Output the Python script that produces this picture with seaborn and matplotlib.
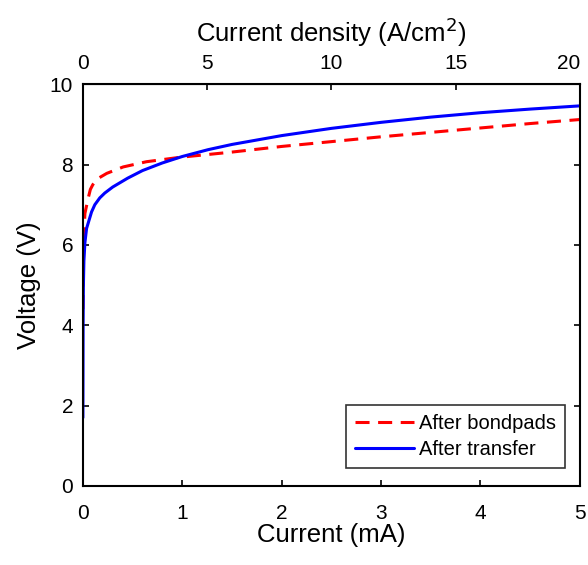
import numpy as np
import pandas as pd
import matplotlib
matplotlib.use("Agg")
import matplotlib.pyplot as plt
import seaborn as sns

# values
bond_current = [0, 0.005, 0.01, 0.02, 0.053, 0.075, 0.1, 0.15, 0.24, 0.405, 0.64, 0.976, 1.26,
                1.5, 2, 2.5, 3, 3.5, 4, 4.5, 5]
bond_voltage = [4.4, 5.6, 6.2, 6.78, 7.16, 7.38, 7.5, 7.65, 7.78, 7.94, 8.07, 8.18, 8.25,
                8.31, 8.45, 8.57, 8.69, 8.8, 8.91, 9.02, 9.12]

transfer_current = [0, 0.002, 0.005, 0.01, 0.02, 0.037, 0.087, 0.12, 0.17, 0.22, 0.3, 0.45, 0.6,
                    0.8, 1.0, 1.26, 1.5, 2, 2.5, 3, 3.5, 4, 4.5, 5]
transfer_voltage = [1.7, 4.0, 5.0, 5.6, 6.05, 6.41, 6.82, 7.0, 7.17, 7.29, 7.44, 7.66, 7.85,
                    8.04, 8.2, 8.37, 8.5, 8.72, 8.9, 9.05, 9.18, 9.29, 9.38, 9.46]

# mA -> A/cm^2 (5 mA corresponds to 20 A/cm^2)
DENSITY_PER_MA = 4.0

sns.set_style("ticks")
plt.rcParams['font.family'] = ['Liberation Sans', 'DejaVu Sans']
for key in ['text.color', 'axes.labelcolor', 'xtick.color', 'ytick.color']:
    plt.rcParams[key] = 'black'

bond = pd.DataFrame({'current': bond_current, 'voltage': bond_voltage})
transfer = pd.DataFrame({'current': transfer_current, 'voltage': transfer_voltage})

fig = plt.figure(figsize=(5.88, 5.65), dpi=100)
ax = fig.add_axes([0.141, 0.140, 0.845, 0.711])

sns.lineplot(data=bond, x='current', y='voltage', color=(1, 0, 0), lw=2.2,
             linestyle=(0, (4.6, 2.8)), label='After bondpads', ax=ax, sort=False)
sns.lineplot(data=transfer, x='current', y='voltage', color=(0, 0, 1), lw=2.2,
             label='After transfer', ax=ax, sort=False)

ax.set_xlim(0, 5)
ax.set_ylim(0, 10)
ax.set_xticks([0, 1, 2, 3, 4, 5])
ax.set_yticks([0, 2, 4, 6, 8, 10])
ax.set_xlabel("Current (mA)", fontsize=18.5, labelpad=0)
ax.set_ylabel("Voltage (V)", fontsize=18.5, labelpad=6)
ax.tick_params(direction='in', length=4.5, width=1.2, labelsize=15, right=True, colors='black')
ax.tick_params(axis='x', pad=13)
ax.tick_params(axis='y', pad=7)

for s in ax.spines.values():
    s.set_visible(True)
    s.set_linewidth(1.5)
    s.set_color('black')

top = ax.secondary_xaxis('top', functions=(lambda x: x * DENSITY_PER_MA,
                                           lambda x: x / DENSITY_PER_MA))
top.set_xticks([0, 5, 10, 15, 20])
top.tick_params(direction='in', length=4.5, width=1.2, labelsize=15, pad=8, colors='black')
top.set_xlabel("Current density (A/cm$^2$)", fontsize=18.5, labelpad=9)
top.get_xticklabels()[-1].set_ha('right')

leg = ax.legend(loc='lower right', bbox_to_anchor=(0.97, 0.045), borderaxespad=0,
                fontsize=14.5, frameon=True, fancybox=False, handlelength=2.9,
                labelspacing=0.35, borderpad=0.45, handletextpad=0.25)
leg.get_frame().set_edgecolor('black')
leg.get_frame().set_linewidth(1.2)

fig.savefig('out.png', dpi=100)
